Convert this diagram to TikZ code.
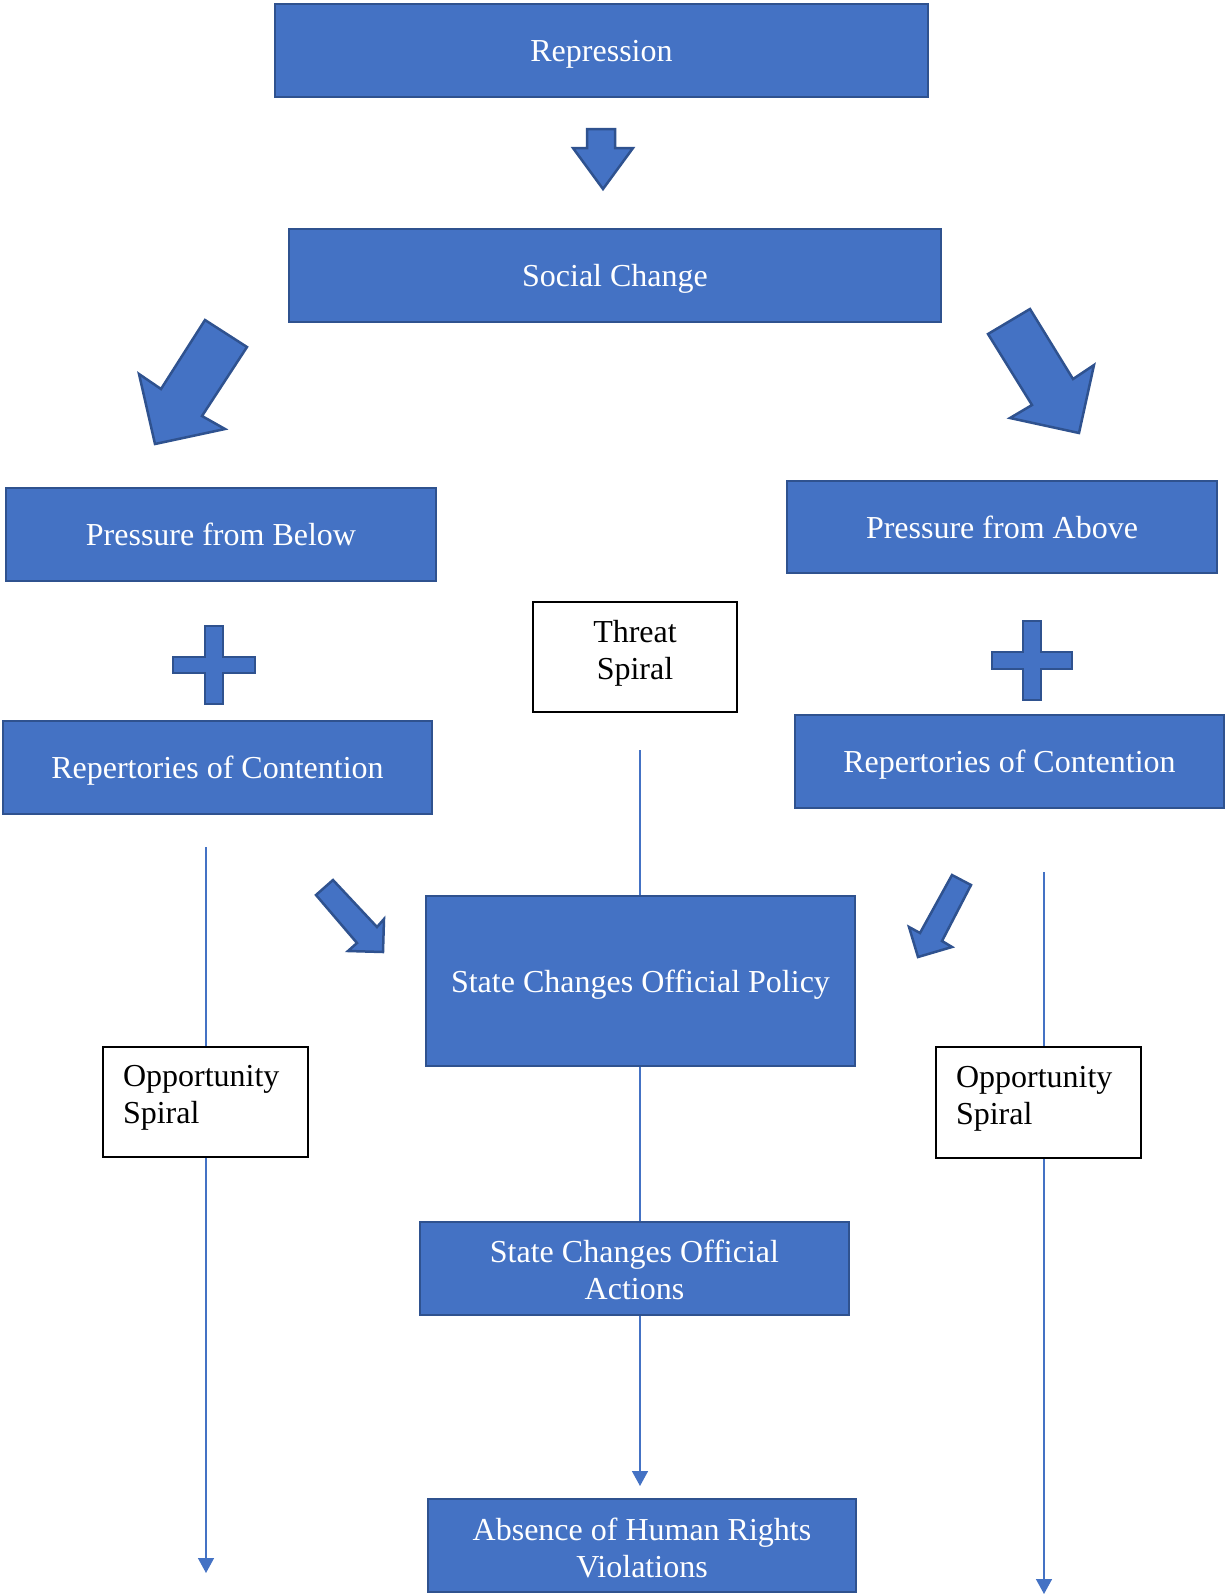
\documentclass[tikz,border=0pt]{standalone}
\usepackage{fontspec}
\setmainfont{Liberation Serif}
\usetikzlibrary{arrows.meta,backgrounds}
\definecolor{boxblue}{HTML}{4472C4}
\definecolor{boxedge}{HTML}{2F528F}

\begin{document}
\begin{tikzpicture}[x=1pt,y=-1pt,
  bluebox/.style={rectangle, fill=boxblue, draw=boxedge, line width=2.5pt, text=white,
    font=\fontsize{32}{37}\selectfont, align=center, inner sep=0pt},
  oneline/.style={text height=31pt, text depth=9pt},
  whitebox/.style={rectangle, fill=white, draw=black, line width=1.3pt, text=black,
    font=\fontsize{32}{37}\selectfont, inner sep=0pt},
  blockarrow/.style={fill=boxblue, draw=boxedge, line width=2.5pt, line join=miter},
  link/.style={draw=boxblue, line width=1.5pt, -{Triangle[width=16pt,length=15pt]}}]

\useasboundingbox (0,0) rectangle (1226,1596);

% boxes
\node[bluebox, oneline, minimum width=653pt, minimum height=93pt] (rep) at (601.5,50.5) {Repression};
\node[bluebox, oneline, minimum width=652pt, minimum height=93pt] (soc) at (615,275.5) {Social Change};
\node[bluebox, oneline, minimum width=430pt, minimum height=93pt] (pfb) at (221,534.5) {Pressure from Below};
\node[bluebox, oneline, minimum width=430pt, minimum height=92pt] (pfa) at (1002,527) {Pressure from Above};
\node[bluebox, oneline, minimum width=429pt, minimum height=93pt] (repl) at (217.5,767.5) {Repertories of Contention};
\node[bluebox, oneline, minimum width=429pt, minimum height=93pt] (repr) at (1009.5,761.5) {Repertories of Contention};
\node[whitebox, minimum width=204pt, minimum height=110pt, align=center] (threat) at (635,657)
  {Threat\\Spiral\rule[-14pt]{0pt}{0pt}};
\node[bluebox, oneline, minimum width=429pt, minimum height=170pt] (policy) at (640.5,981) {State Changes Official Policy};
\node[whitebox, minimum width=205pt, minimum height=110pt, text width=165pt, align=left] (oppl) at (205.5,1102)
  {Opportunity\\Spiral\rule[-15pt]{0pt}{0pt}};
\node[whitebox, minimum width=205pt, minimum height=111pt, text width=165pt, align=left] (oppr) at (1038.5,1102.5)
  {Opportunity\\Spiral\rule[-15pt]{0pt}{0pt}};
\node[bluebox, minimum width=429pt, minimum height=93pt] (actions) at (634.5,1268.5)
  {\rule{0pt}{26pt}State Changes Official\\Actions};
\node[bluebox, minimum width=428pt, minimum height=93pt] (absence) at (642,1545.5)
  {\rule{0pt}{27pt}Absence of Human Rights\\Violations};

% thin connectors, passing behind the boxes
\coordinate (cstart) at (640,750);
\coordinate (cend) at (640,1486);
\coordinate (lstart) at (206,847);
\coordinate (lend) at (206,1573);
\coordinate (rstart) at (1044,872);
\coordinate (rend) at (1044,1594);
\begin{scope}[on background layer]
  \draw[link] (cstart) -- (cend);
  \draw[link] (lstart) -- (lend);
  \draw[link] (rstart) -- (rend);
\end{scope}

% block arrows
\draw[blockarrow] (587,129) -- (615,129) -- (615,148) -- (633,148) -- (603,189) -- (573,148) -- (587,148) -- cycle;
\draw[blockarrow] (205,320) -- (247,347) -- (202,416) -- (225,429) -- (155,444) -- (139,374) -- (161,389) -- cycle;
\draw[blockarrow] (988,334) -- (1030,309) -- (1073,379) -- (1094,365) -- (1079,433) -- (1010,418) -- (1032,405) -- cycle;
\draw[blockarrow] (316,895) -- (333,880) -- (377,927) -- (384,919) -- (383,952) -- (348,951) -- (357,943) -- cycle;
\draw[blockarrow] (952,875) -- (971,885) -- (942,941) -- (952,947) -- (918,957) -- (909,927) -- (920,933) -- cycle;

% plus signs
\draw[blockarrow] (205,626) -- (223,626) -- (223,657) -- (255,657) -- (255,673) -- (223,673) -- (223,704)
  -- (205,704) -- (205,673) -- (173,673) -- (173,657) -- (205,657) -- cycle;
\draw[blockarrow] (1023,621) -- (1041,621) -- (1041,652) -- (1072,652) -- (1072,669) -- (1041,669) -- (1041,700)
  -- (1023,700) -- (1023,669) -- (992,669) -- (992,652) -- (1023,652) -- cycle;
\end{tikzpicture}
\end{document}
